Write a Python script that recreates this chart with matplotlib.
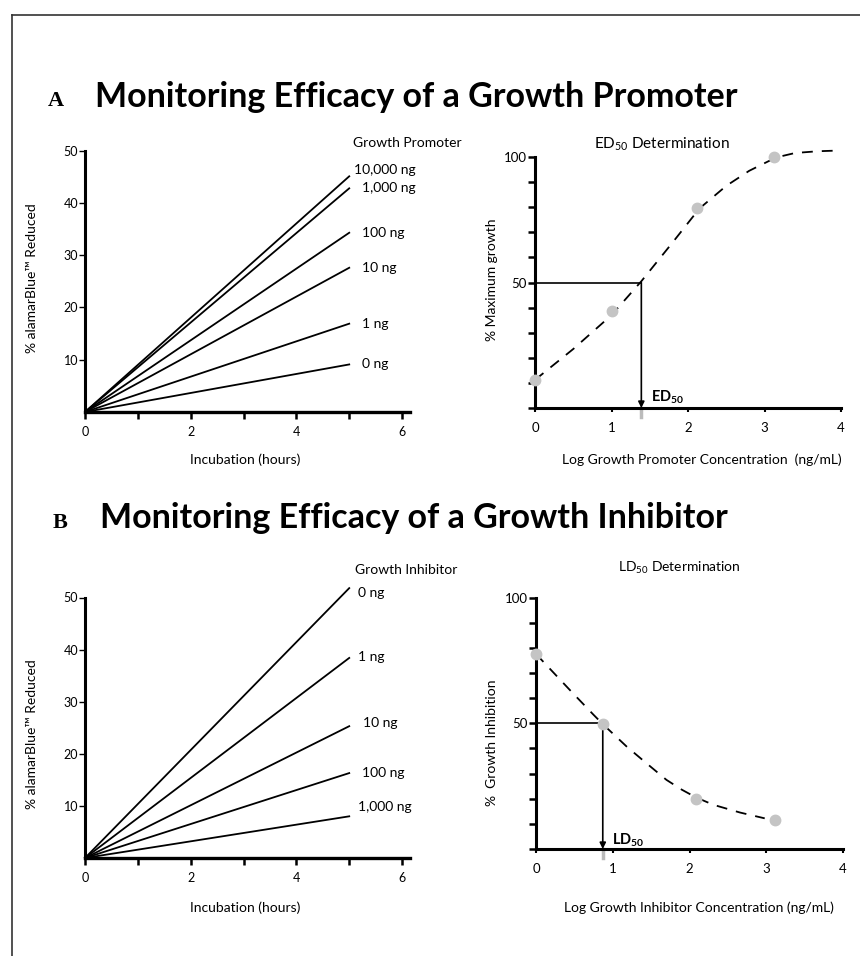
import matplotlib
matplotlib.use('Agg')
import matplotlib.pyplot as plt
from matplotlib.lines import Line2D

plt.rcParams['font.family'] = ['Lato', 'DejaVu Sans']
plt.rcParams['mathtext.fontset'] = 'custom'
plt.rcParams['mathtext.rm'] = 'Lato'
plt.rcParams['mathtext.bf'] = 'Lato:bold'

W, H = 860, 956

# --- data ---
hours = [0, 5]
promoter_doses = ['10,000 ng', '1,000 ng', '100 ng', '10 ng', '1 ng', '0 ng']
promoter_end = [45.1, 42.8, 34.3, 27.6, 16.9, 9.1]
inhibitor_doses = ['0 ng', '1 ng', '10 ng', '100 ng', '1,000 ng']
inhibitor_end = [51.8, 38.4, 25.3, 16.3, 8.0]

ed_x = [0, 1.0, 2.12, 3.12]
ed_y = [11.2, 38.6, 79.8, 99.9]
ed_curve_x = [0, 0.5, 1.0, 1.39, 1.8, 2.15, 2.5, 2.8, 3.15, 3.4, 3.7, 4.0]
ed_curve_y = [11.2, 23.5, 37.0, 50.5, 66.0, 79.5, 88.5, 94.5, 99.8, 101.6, 102.3, 102.6]
ed50 = 1.39

ld_x = [0, 0.87, 2.08, 3.11]
ld_y = [77.6, 49.7, 19.9, 11.6]
ld_curve_x = [0, 0.44, 0.75, 0.87, 1.18, 1.44, 1.70, 1.9, 2.08, 2.31, 2.66, 2.98]
ld_curve_y = [77.6, 63.3, 53.4, 49.7, 40.8, 34.1, 27.5, 23.6, 20.6, 17.6, 14.5, 12.2]
ld50 = 0.87

# label nudges (layout only)
promoter_lab_dx = [5.09, 5.24, 5.24, 5.24, 5.24, 5.24]
promoter_lab_dy = [1.3, 0, 0, 0, 0, 0]
inhibitor_lab_dx = [5.16, 5.16, 5.26, 5.24, 5.17]
inhibitor_lab_dy = [-0.9, 0.2, 0.6, 0, 1.8]

fig = plt.figure(figsize=(W / 100, H / 100), dpi=100)


def add_ax(left, bottom, width, height):
    return fig.add_axes([left / W, 1 - bottom / H, width / W, height / H])


def fx(px):
    return px / W


def fy(py):
    return 1 - py / H


def style_time_axes(ax):
    ax.set_xlim(0, 6.15)
    ax.set_ylim(0, 52)
    for s in ['top', 'right']:
        ax.spines[s].set_visible(False)
    ax.spines['left'].set_bounds(0, 50)
    ax.spines['left'].set_linewidth(2.2)
    ax.spines['bottom'].set_linewidth(2.4)
    ax.set_xticks(range(7))
    ax.set_xticklabels(['0', '', '2', '', '4', '', '6'])
    ax.set_yticks([10, 20, 30, 40, 50])
    ax.tick_params(axis='x', length=5, width=1.8, pad=5, labelsize=9)
    ax.tick_params(axis='y', length=4, width=1.0, pad=1, labelsize=9)
    ax.patch.set_visible(False)


def style_dose_axes(ax):
    ax.set_xlim(0, 4)
    ax.set_ylim(0, 105)
    for s in ['top', 'right']:
        ax.spines[s].set_visible(False)
    ax.spines['left'].set_bounds(0, 100)
    ax.spines['left'].set_linewidth(2.2)
    ax.spines['bottom'].set_linewidth(2.2)
    ax.set_xticks(range(5))
    ax.set_yticks(range(0, 101, 10))
    ax.set_yticklabels([str(t) if t in (50, 100) else '' for t in range(0, 101, 10)])
    ax.tick_params(axis='x', length=3, width=1.5, pad=7, labelsize=9.5)
    ax.tick_params(axis='y', length=5, width=1.8, pad=1, labelsize=9.5)
    ax.patch.set_visible(False)


# --- A: growth promoter time course ---
axA = add_ax(85, 412, 325, 52 * 5.226)
style_time_axes(axA)
for lab, v, dx, dy in zip(promoter_doses, promoter_end, promoter_lab_dx, promoter_lab_dy):
    axA.plot(hours, [0, v], color='black', lw=1.3)
    axA.text(dx, v + dy, lab, va='center', ha='left', fontsize=10)

# --- A: ED50 ---
axA2 = add_ax(535, 408, 306, 105 * 2.51)
style_dose_axes(axA2)
axA2.plot(ed_curve_x, ed_curve_y, color='black', lw=1.3, ls=(0, (6, 5)), clip_on=False)
axA2.plot([0, ed50], [50, 50], color='black', lw=1.2)
axA2.annotate('', xy=(ed50, 0), xytext=(ed50, 50),
              arrowprops=dict(arrowstyle='-|>', color='black', lw=1.2,
                              mutation_scale=9, shrinkA=0, shrinkB=0))
axA2.plot([ed50, ed50], [0, -3.5], color='#bbbbbb', lw=2.5, clip_on=False)
axA2.plot(ed_x, ed_y, 'o', color='#c4c4c4', ms=7.5, clip_on=False, zorder=5)
axA2.text(ed50 + 0.12, 2.5, r'$\mathbf{ED_{50}}$', fontsize=10.5, va='baseline')

# --- B: growth inhibitor time course ---
axB = add_ax(85, 858, 325, 52 * 5.21)
style_time_axes(axB)
for lab, v, dx, dy in zip(inhibitor_doses, inhibitor_end, inhibitor_lab_dx, inhibitor_lab_dy):
    axB.plot(hours, [0, v], color='black', lw=1.3, clip_on=False)
    axB.text(dx, v + dy, lab, va='center', ha='left', fontsize=10)

# --- B: LD50 ---
axB2 = add_ax(536, 849, 307, 105 * 2.513)
style_dose_axes(axB2)
axB2.plot(ld_curve_x, ld_curve_y, color='black', lw=1.3, ls=(0, (6, 5)))
axB2.plot([0, ld50], [50, 50], color='black', lw=1.2)
axB2.annotate('', xy=(ld50, 0), xytext=(ld50, 48),
              arrowprops=dict(arrowstyle='-|>', color='black', lw=1.2,
                              mutation_scale=9, shrinkA=0, shrinkB=0))
axB2.plot([ld50, ld50], [0, -3.5], color='#bbbbbb', lw=2.5, clip_on=False)
axB2.plot(ld_x, ld_y, 'o', color='#c4c4c4', ms=7.5, clip_on=False, zorder=5)
axB2.text(ld50 + 0.12, 1.8, r'$\mathbf{LD_{50}}$', fontsize=10.5, va='baseline')

# --- titles and labels ---
fig.text(fx(48), fy(106), 'A', family='Liberation Serif', weight='bold', fontsize=16, va='baseline')
fig.text(fx(95), fy(107), 'Monitoring Efficacy of a Growth Promoter',
         weight='bold', fontsize=24.5, va='baseline')
fig.text(fx(53), fy(528), 'B', family='Liberation Serif', weight='bold', fontsize=16, va='baseline')
fig.text(fx(100), fy(528), 'Monitoring Efficacy of a Growth Inhibitor',
         weight='bold', fontsize=24.5, va='baseline')

fig.text(fx(353), fy(143), 'Growth Promoter', fontsize=10, va='center')
fig.text(fx(355), fy(570), 'Growth Inhibitor', fontsize=10, va='center')
fig.text(fx(662), fy(148), r'ED$_{50}$ Determination', fontsize=11, ha='center', va='baseline')
fig.text(fx(679), fy(572), r'LD$_{50}$ Determination', fontsize=10, ha='center', va='baseline')

for yc in (278, 734):
    fig.text(fx(32), fy(yc), '% alamarBlue™ Reduced', rotation=90, fontsize=10,
             ha='center', va='center')
fig.text(fx(245), fy(460), 'Incubation (hours)', fontsize=10, ha='center', va='center')
fig.text(fx(245), fy(908), 'Incubation (hours)', fontsize=10, ha='center', va='center')
fig.text(fx(492), fy(280), '% Maximum growth', rotation=90, fontsize=10, ha='center', va='center')
fig.text(fx(492), fy(743), '%  Growth Inhibition', rotation=90, fontsize=10, ha='center', va='center')
fig.text(fx(842), fy(460), 'Log Growth Promoter Concentration  (ng/mL)', fontsize=10,
         ha='right', va='center')
fig.text(fx(834), fy(908), 'Log Growth Inhibitor Concentration (ng/mL)', fontsize=10,
         ha='right', va='center')

# page frame
fig.add_artist(Line2D([fx(12), fx(12)], [0, fy(15)], color='#333333', lw=1.2))
fig.add_artist(Line2D([fx(12), 1], [fy(15), fy(15)], color='#333333', lw=1.2))

fig.savefig('out.png', dpi=100)
